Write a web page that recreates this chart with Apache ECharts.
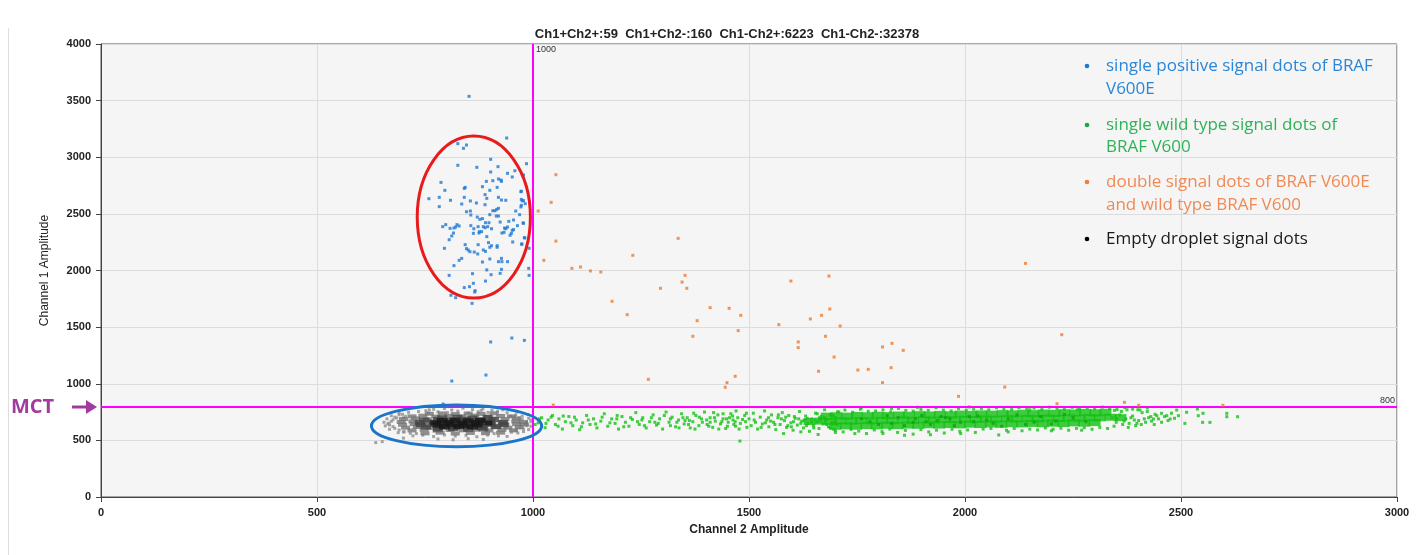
<!DOCTYPE html>
<html><head><meta charset="utf-8">
<script src="https://cdn.jsdelivr.net/npm/echarts/dist/echarts.min.js"></script>
<style>html,body{margin:0;padding:0;background:#fff}#c{width:1422px;height:555px}</style>
</head><body><div id="c"></div>
<script>
// ---------- text / ticks ----------
const titleText = 'Ch1+Ch2+:59  Ch1+Ch2-:160  Ch1-Ch2+:6223  Ch1-Ch2-:32378';
const xTicks = [0, 500, 1000, 1500, 2000, 2500, 3000];
const yTicks = [0, 500, 1000, 1500, 2000, 2500, 3000, 3500, 4000];
const thresholdX = 1000;
const thresholdY = 800;
const legendLines = [
  ['single positive signal dots of BRAF', 'V600E'],
  ['single wild type signal dots of', 'BRAF V600'],
  ['double signal dots of BRAF V600E', 'and wild type BRAF V600'],
  ['Empty droplet signal dots']
];

// ---------- data (Channel 2, Channel 1) ----------
const bluePos = [
[852,3538],[939,3170],[826,3120],[846,3108],[839,3079],[902,2982],[985,2943],[826,2929],[870,2911],[919,2917],
[902,2870],[958,2881],[941,2858],[952,2826],[978,2843],[920,2808],[926,2799],[927,2787],[907,2793],[892,2787],
[787,2778],[883,2740],[843,2734],[841,2725],[796,2708],[917,2734],[900,2708],[972,2696],[889,2670],[783,2646],
[759,2634],[809,2620],[841,2646],[893,2637],[920,2646],[937,2620],[927,2622],[973,2628],[978,2617],[855,2614],
[869,2596],[835,2587],[889,2581],[973,2575],[783,2564],[846,2519],[855,2525],[907,2528],[916,2540],[920,2549],
[912,2528],[900,2493],[960,2525],[972,2561],[856,2490],[915,2481],[920,2481],[969,2493],[871,2472],[877,2452],
[883,2458],[898,2422],[890,2422],[944,2434],[955,2446],[978,2417],[791,2387],[798,2405],[808,2372],[817,2375],
[821,2384],[824,2405],[829,2393],[856,2396],[863,2369],[873,2387],[885,2387],[889,2378],[895,2387],[904,2369],
[924,2428],[934,2375],[937,2369],[941,2384],[952,2355],[955,2361],[964,2396],[862,2328],[876,2343],[875,2331],
[881,2343],[816,2331],[812,2305],[893,2299],[928,2331],[933,2337],[950,2328],[947,2311],[806,2272],[981,2287],
[953,2252],[974,2231],[897,2246],[904,2219],[900,2205],[917,2219],[917,2205],[885,2181],[890,2169],[872,2146],
[864,2163],[850,2181],[843,2228],[846,2193],[854,2166],[873,2228],[795,2196],[991,2196],[927,2107],[941,2078],
[928,2078],[920,2078],[900,2102],[835,2107],[829,2090],[883,2075],[817,2043],[893,2005],[990,2019],[991,1957],
[927,2010],[924,1975],[903,1963],[860,1972],[806,1957],[890,1907],[862,1887],[853,1857],[841,1849],[866,1822],
[865,1810],[810,1781],[821,1760],[859,1710],[973,2700],[975,2615],[982,2590],[977,2420],[980,2290],[974,2235],
[812,1024],[891,1077],[902,1369],[951,1404],[980,1383],[792,821]
];
const doublePos = [
[1053,2846],[1042,2602],[1012,2525],[1053,2260],[1025,2090],[1090,2019],[1110,2031],[1133,1996],[1157,1987],[1183,1728],
[1218,1610],[1231,2134],[1336,2284],[1295,1843],[1352,1957],[1345,1898],[1356,1843],[1410,1672],[1380,1557],[1370,1419],
[1454,1666],[1481,1604],[1475,1469],[1267,1039],[1468,1066],[1449,1010],[1445,969],[1047,812],[1569,1522],[1597,1907],
[1685,1951],[1687,1660],[1668,1604],[1642,1572],[1711,1510],[1677,1419],[1614,1369],[1614,1319],[1697,1236],[1661,1110],
[1752,1121],[1776,1127],[1809,1325],[1831,1357],[1857,1295],[1829,1142],[1809,1010],[2140,2063],[2224,1433],[1985,889],
[2092,971],[2213,824],[2369,836],[2402,810],[2597,810]
];
const wildSparse = [
[1005,640],[1012,655],[1020,700],[1028,612],[1035,680],[1045,720],[1052,640],[1060,690],[1068,600],[1075,665],[1083,710],
[1092,630],[1100,680],[1108,595],[1115,655],[1124,720],[1132,640],[1140,690],[1148,610],[1157,670],[1165,735],
[1173,625],[1182,690],[1190,650],[1198,600],[1206,710],[1214,660],[1222,625],[1230,685],[1238,745],[1246,640],
[1254,700],[1262,610],[1270,665],[1278,725],[1286,635],[1293,690],[1300,600],[1308,750],[1315,660],[1322,705],
[1330,620],[1337,680],[1344,735],[1350,645],[1357,700],[1364,610],[1370,665],[1377,720],[1384,630],[1390,690],
[1397,750],[1403,640],[1410,700],[1416,615],[1422,670],[1428,725],[1434,645],[1440,690],[1446,605],[1452,660],
[1458,735],[1463,680],[1469,625],[1474,700],[1480,650],[1479,494],[1490,720],[1495,615],[1430,600],[1455,700],
[1410,660],[1470,760],[1385,705],[1440,735],[1360,640],[1465,640],[1485,685],
[1015,690],[1030,650],[1042,705],[1058,625],[1070,715],[1088,655],[1096,705],[1112,620],[1128,680],[1145,645],
[1160,705],[1178,655],[1194,690],[1210,620],[1226,700],[1242,665],[1258,630],[1274,700],[1290,650],[1304,720],
[1318,630],[1333,660],[1347,700],[1362,675],[1375,600],[1392,660],[1407,625],[1420,700],[1437,665],[1450,625],
[1462,715],[1477,600],[1492,665],[1318,690],[1338,610],[1352,675],[1402,680],[1418,745],[1448,690],[1468,665],
[1494,740],[1372,740],[1282,660],[1252,680],[1195,720]
];
const wildMid = [
[1500,690],[1505,630],[1510,740],[1515,660],[1520,600],[1526,705],[1531,645],[1536,760],[1541,680],[1546,620],
[1552,725],[1557,660],[1562,595],[1567,700],[1572,640],[1577,745],[1582,675],[1587,615],[1592,720],[1597,655],
[1602,590],[1607,695],[1612,635],[1617,755],[1622,670],[1626,610],[1631,715],[1636,650],[1640,580],[1645,690],
[1649,630],[1654,740],[1658,665],[1662,605],[1667,710],[1671,645],[1675,770],[1680,685],[1684,620],[1688,725],
[1692,660],[1696,598],[1700,700],[1704,640],[1708,750],[1512,680],[1528,615],[1545,700],[1560,640],[1575,690],
[1590,630],[1605,710],[1620,650],[1635,695],[1650,610],[1665,680],[1680,640],[1695,720],[1550,670],[1585,705],
[1615,690],[1645,660],[1675,700],[1700,665],[1538,655],[1568,725],[1598,620],[1628,675],[1658,735],[1688,610],
[1580,560],[1620,575],[1660,552],[1700,570],[1603,665],[1633,630],[1663,700],[1693,645]
];
const wildCore = [
[1640,667],[1665,670],[1688,666],[1712,673],[1737,670],[1760,675],[1785,672],[1808,677],[1832,674],[1857,680],
[1880,677],[1905,682],[1928,679],[1952,685],[1977,682],[2000,687],[2025,684],[2048,689],[2072,687],[2097,692],
[2120,689],[2145,694],[2168,691],[2192,697],[2217,694],[2240,699],[2265,696],[2288,701],[2312,699],[2337,704],[2360,701],
[1680,714],[1702,717],[1727,714],[1750,720],[1775,717],[1798,722],[1822,719],[1847,724],[1870,722],[1895,727],
[1918,724],[1942,729],[1967,726],[1990,732],[2015,729],[2038,734],[2062,731],[2087,736],[2110,734],[2135,739],
[2158,736],[2182,741],[2207,738],[2230,744],[2255,741],[2278,746],[2302,743],[2325,748],
[1700,625],[1724,628],[1748,625],[1772,631],[1796,628],[1820,633],[1844,630],[1868,635],[1892,633],[1916,638],
[1940,635],[1964,640],[1988,637],[2012,643],[2036,640],[2060,645],[2084,642],[2108,647],[2132,645],[2156,650],
[2180,647],[2204,652],[2228,649],[2252,655],[2276,652],[2300,657]
];
const wildEdge = [
[1705,752],[1722,768],[1740,748],[1758,775],[1776,756],[1793,760],[1810,770],[1828,752],[1846,782],[1863,765],
[1880,758],[1898,772],[1915,765],[1933,790],[1950,768],[1968,760],[1985,780],[2003,767],[2020,775],[2038,782],
[2055,770],[2073,788],[2090,776],[2108,772],[2125,790],[2143,778],[2160,785],[2178,772],[2195,793],[2213,780],
[2230,775],[2248,792],[2265,782],[2283,788],[2300,778],[2318,794],[2335,780],[2352,772],[2370,790],[2388,776],
[2405,768],[2422,786],[1760,790],[1890,792],[2010,795],[2150,770],[2260,770],[1830,782],
[1700,590],[1718,575],[1736,598],[1754,582],[1772,560],[1790,592],[1808,578],[1826,600],[1844,570],[1862,588],
[1880,555],[1898,595],[1916,575],[1934,590],[1952,565],[1970,598],[1988,580],[2006,592],[2024,570],[2042,600],
[2060,605],[2078,548],[2096,590],[2114,605],[2132,585],[2150,600],[2168,592],[2186,610],[2204,598],[2222,608],
[2240,590],[2258,606],[2276,612],[2294,598],[2312,615],[2330,605],[1745,560],[1860,545],[1990,560],[2100,575],
[2200,585],[1920,550],[2270,590],[1810,560],
[2340,700],[2350,660],[2358,725],[2365,640],[2372,690],[2380,650],[2388,715],[2395,630],[2402,675],[2410,745],
[2418,660],[2425,700],[2432,670],[2440,730],[2448,690],[2455,660],[2462,710],[2470,675],[2478,740],[2485,695],
[2345,625],[2362,755],[2378,615],[2392,680],[2408,640],[2422,755],[2438,640],[2352,690],[2368,670],[2384,700],
[2398,650],[2415,690],[2430,710],[2346,765],[2375,770],[2400,770],
[2513,748],[2538,777],[2540,718],[2551,739],[2567,659],[2550,659],[2509,650],[2606,739],[2606,709],[2631,709],
[2490,768],[2494,718],[2467,718],[2475,689],[2455,739],[2444,718],[2436,689]
];
const wildDark = [
[1760,690],[1800,640],[1845,700],[1880,660],[1920,640],[1955,700],[1990,660],[2030,715],[2065,650],[2100,690],
[2140,640],[2175,710],[2210,670],[2250,700],[1820,720],[1900,720],[1975,630],[2050,680],[2120,725],[2200,645],
[1860,630],[1935,675],[2010,710],[2085,625],[2160,660],[2230,730],[1780,665],[2280,665],[1885,690],[1945,710],
[2020,665],[1830,650],[1910,665],[1965,690]
];
const emptyOuter = [
[770,775],[795,782],[812,768],[838,785],[860,772],[884,778],[905,766],[752,762],[930,770],
[712,748],[735,755],[758,742],[780,752],[802,745],[826,758],[850,741],[873,753],[896,747],[918,756],[940,744],[962,750],[690,740],
[672,718],[690,726],[705,712],[960,722],[975,714],[988,728],[698,730],[948,712],
[662,690],[676,682],[684,698],[975,686],[990,695],[996,680],
[655,660],[666,652],[672,668],[985,658],[995,665],
[658,628],[668,636],[676,622],[986,630],[995,625],
[668,598],[680,606],[690,592],[978,600],[990,595],[970,608],
[688,568],[702,576],[716,562],[950,572],[965,565],[978,578],
[722,540],[745,546],[770,534],[795,548],[820,538],[845,544],[870,532],[895,547],[920,540],[940,535],
[780,512],[815,505],[850,515],[885,508],[700,520],[636,480],[651,489],
[680,705],[700,700],[968,700],[982,645],[664,645],[700,575],[960,590],[730,560],[910,560],[760,770],[880,765]
];
const emptyMid = [
[760,735],[790,738],[820,732],[850,737],[880,734],[910,739],
[720,712],[745,718],[775,710],[805,716],[835,713],[865,719],[895,711],[925,716],[950,712],
[700,688],[728,694],[755,686],[785,692],[815,689],[845,695],[875,687],[905,693],[935,688],[962,692],
[695,662],[722,668],[752,660],[782,666],[812,663],[842,669],[872,661],[902,667],[932,662],[960,668],[978,662],
[698,638],[725,644],[755,636],[785,642],[815,639],[845,645],[875,637],[905,643],[935,638],[962,644],[980,640],
[705,612],[732,618],[762,610],[792,616],[822,613],[852,619],[882,611],[912,617],[942,612],[968,618],
[720,588],[748,594],[778,586],[808,592],[838,589],[868,595],[898,587],[928,593],[955,588],
[750,562],[785,568],[820,560],[855,566],[890,563],[925,568]
];
const emptyInner = [
[790,700],[825,703],[860,698],[895,702],
[748,680],[780,684],[812,678],[845,683],[878,679],[910,684],
[738,658],[770,662],[802,656],[835,661],[868,657],[900,662],[930,658],
[740,638],[772,642],[805,636],[838,641],[870,637],[902,642],[932,638],
[752,618],[785,622],[818,616],[850,621],[882,617],[915,622],
[780,600],[815,603],[850,598],[885,602]
];
const emptyCore = [
[790,675],[820,678],[850,673],[878,677],[775,655],[805,658],[835,652],[865,657],[893,653],
[780,635],[810,638],[840,632],[870,637],[795,618],[828,622],[860,617]
];
// annotation ellipses in data units: [centerX, centerY, radiusX, radiusY]
const redEllipse = [863, 2472, 131, 715];
const blueEllipse = [823, 628, 197, 184];

// ---------- chart ----------
const chart = echarts.init(document.getElementById('c'), null, {renderer: 'canvas'});
const FONT = 'Liberation Sans';
function sc(name, data, color, size, symbol, z, extra) {
  return Object.assign({
    name: name, type: 'scatter', data: data, symbol: symbol || 'rect', symbolSize: size,
    itemStyle: {color: color}, z: z, silent: true, animation: false
  }, extra || {});
}
const option = {
  animation: false,
  backgroundColor: '#ffffff',
  title: {
    text: titleText, left: 722, top: 23, textAlign: 'center',
    textStyle: {fontFamily: FONT, fontSize: 13, fontWeight: 'bold', color: '#222'}
  },
  grid: {left: 101, right: 25, top: 44, bottom: 58, show: true, backgroundColor: '#f5f5f5', borderColor: '#555', borderWidth: 1},
  xAxis: {
    type: 'value', min: 0, max: 3000, interval: 500,
    name: 'Channel 2 Amplitude', nameLocation: 'middle', nameGap: 27,
    nameTextStyle: {fontFamily: FONT, fontSize: 12, fontWeight: 'bold', color: '#222'},
    axisLine: {show: true, lineStyle: {color: '#444'}},
    axisTick: {show: true, length: 5, lineStyle: {color: '#444'}},
    axisLabel: {fontFamily: FONT, fontSize: 11, fontWeight: 'bold', color: '#222', margin: 10,
      formatter: v => xTicks.includes(v) ? String(v) : ''},
    splitLine: {show: true, lineStyle: {color: '#dcdcdc'}}
  },
  yAxis: {
    type: 'value', min: 0, max: 4000, interval: 500,
    name: 'Channel 1 Amplitude', nameLocation: 'middle', nameGap: 50,
    nameTextStyle: {fontFamily: FONT, fontSize: 12, color: '#222'},
    axisLine: {show: true, lineStyle: {color: '#444'}},
    axisTick: {show: true, length: 5, lineStyle: {color: '#444'}},
    axisLabel: {fontFamily: FONT, fontSize: 11, fontWeight: 'bold', color: '#222', margin: 10,
      formatter: v => yTicks.includes(v) ? String(v) : ''},
    splitLine: {show: true, lineStyle: {color: '#dcdcdc'}}
  },
  series: [
    sc('Ch1-Ch2+ sparse', wildSparse, '#14c214', 3, 'rect', 2),
    sc('Ch1-Ch2+ mid', wildMid, '#14c214', 3, 'rect', 2),
    sc('Ch1-Ch2+ core', wildCore, '#12c012', [12, 7], 'rect', 2),
    sc('Ch1-Ch2+ edge', wildEdge, '#14c214', 3, 'rect', 2),
    sc('Ch1-Ch2+ dark', wildDark, '#0ea10e', 3, 'rect', 3),
    sc('Ch1-Ch2- outer', emptyOuter, '#8f8f8f', 3, 'rect', 4),
    sc('Ch1-Ch2- mid', emptyMid, '#747474', [9, 4], 'rect', 4),
    sc('Ch1-Ch2- inner', emptyInner, '#444444', [10, 5], 'rect', 5),
    sc('Ch1-Ch2- core', emptyCore, '#161616', [11, 5], 'rect', 5),
    sc('Ch1+Ch2-', bluePos, '#1e78d2', 3, 'rect', 6),
    sc('Ch1+Ch2+', doublePos, '#f07a2c', 3, 'rect', 6, {
      markLine: {
        silent: true, symbol: ['none', 'none'], animation: false,
        lineStyle: {color: '#ff00ff', width: 2, type: 'solid'},
        label: {show: false},
        data: [{xAxis: thresholdX}, {yAxis: thresholdY}]
      }
    })
  ]
};
chart.setOption(option);

function px(x, y) { return chart.convertToPixel({gridIndex: 0}, [x, y]); }
function ell(e, color) {
  const c = px(e[0], e[1]);
  const r = px(e[0] + e[2], e[1] + e[3]);
  return {type: 'ellipse', z: 50, silent: true,
    shape: {cx: c[0], cy: c[1], rx: r[0] - c[0], ry: c[1] - r[1]},
    style: {fill: 'none', stroke: color, lineWidth: 3}};
}
const gx = px(thresholdX, 4000);
const gy = px(3000, thresholdY);
const legendColors = [['#1e78d2', '#2b86d8'], ['#1aa64a', '#2eb356'], ['#ee7d3f', '#ef8a55'], ['#000000', '#1a1a1a']];
const legendY = [[66, 89], [125, 147], [182, 205], [239]];
const graphics = [
  ell(redEllipse, '#ea1a1a'),
  ell(blueEllipse, '#1b74c9'),
  {type: 'text', z: 50, style: {x: gx[0] + 3, y: gx[1] + 6, text: String(thresholdX), fontFamily: FONT, fontSize: 9, fill: '#333', verticalAlign: 'middle'}},
  {type: 'text', z: 50, style: {x: gy[0] - 2, y: gy[1] - 6, text: String(thresholdY), fontFamily: FONT, fontSize: 9, fill: '#333', align: 'right', verticalAlign: 'middle'}},
  {type: 'line', z: 1, shape: {x1: 8.5, y1: 28, x2: 8.5, y2: 555}, style: {stroke: '#dedede', lineWidth: 1}},
  {type: 'text', z: 50, style: {x: 11, y: 407, text: 'MCT', fontFamily: 'Open Sans', fontSize: 20, fontWeight: 'bold', fill: '#a23b9f', verticalAlign: 'middle'}},
  {type: 'line', z: 50, shape: {x1: 72, y1: 407, x2: 88, y2: 407}, style: {stroke: '#a23b9f', lineWidth: 3}},
  {type: 'polygon', z: 50, shape: {points: [[86, 400], [97, 407], [86, 414]]}, style: {fill: '#a23b9f'}}
];
legendLines.forEach((lines, i) => {
  graphics.push({type: 'circle', z: 50, shape: {cx: 1087, cy: legendY[i][0], r: 2.3}, style: {fill: legendColors[i][0]}});
  lines.forEach((t, j) => {
    graphics.push({type: 'text', z: 50, style: {x: 1106, y: legendY[i][j], text: t, fontFamily: 'Open Sans', fontSize: 17, fill: legendColors[i][1], verticalAlign: 'middle'}});
  });
});
chart.setOption({graphic: graphics});
</script></body></html>
